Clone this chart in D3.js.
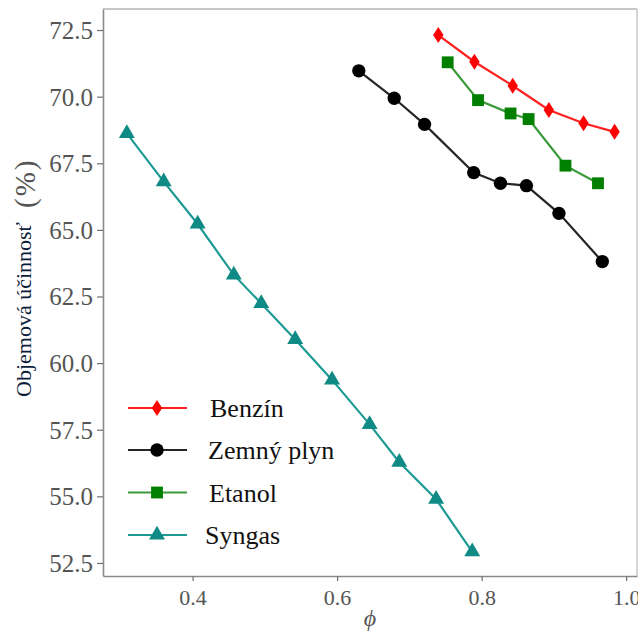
<!DOCTYPE html>
<html>
<head>
<meta charset="utf-8">
<script src="https://cdn.jsdelivr.net/npm/d3@7/dist/d3.min.js"></script>
<style>
  html, body { margin: 0; padding: 0; background: #fff; }
  svg { display: block; }
  .tick text { font-family: "Liberation Serif", "DejaVu Serif", serif; }
</style>
</head>
<body>
<svg id="chart" width="638" height="631"></svg>
<script>
// Volumetric efficiency vs. equivalence ratio for four fuels
const benzinPhi = [0.740, 0.790, 0.843, 0.893, 0.941, 0.984];
const benzinEff = [72.31, 71.31, 70.41, 69.50, 69.00, 68.68];

const plynPhi = [0.630, 0.679, 0.721, 0.789, 0.826, 0.862, 0.907, 0.967];
const plynEff = [70.97, 69.94, 68.96, 67.15, 66.75, 66.66, 65.62, 63.81];

const etanolPhi = [0.753, 0.795, 0.840, 0.865, 0.916, 0.961];
const etanolEff = [71.29, 69.87, 69.37, 69.16, 67.41, 66.75];

const syngasPhi = [0.309, 0.360, 0.407, 0.457, 0.495, 0.542, 0.593, 0.645, 0.686, 0.737, 0.787];
const syngasEff = [68.62, 66.81, 65.22, 63.31, 62.24, 60.89, 59.37, 57.70, 56.28, 54.89, 52.92];

const xTicks = [0.4, 0.6, 0.8, 1.0];
const yTicks = [52.5, 55.0, 57.5, 60.0, 62.5, 65.0, 67.5, 70.0, 72.5];

const seriesNames = ["Benzín", "Zemný plyn", "Etanol", "Syngas"];

const series = [
  { name: seriesNames[0], phi: benzinPhi, eff: benzinEff, line: "#ff2020", fill: "#ff0000", sym: "diamond" },
  { name: seriesNames[1], phi: plynPhi, eff: plynEff, line: "#262626", fill: "#000000", sym: "circle" },
  { name: seriesNames[2], phi: etanolPhi, eff: etanolEff, line: "#3a9a3a", fill: "#007f00", sym: "square" },
  { name: seriesNames[3], phi: syngasPhi, eff: syngasEff, line: "#1e9a94", fill: "#0f8a84", sym: "triangle" }
];

const svg = d3.select("#chart");
const m = { left: 103, top: 9, right: 1, bottom: 55 };
const W = 638 - m.left - m.right;
const H = 631 - m.top - m.bottom;

const x = d3.scaleLinear().domain([0.276, 1.015]).range([0, W]);
const y = d3.scaleLinear().domain([52.01, 73.29]).range([H, 0]);

const g = svg.append("g").attr("transform", `translate(${m.left},${m.top})`);

// Frame: light top/right, darker left/bottom
g.append("line").attr("x1", 0).attr("x2", W).attr("y1", 0).attr("y2", 0)
  .attr("stroke", "#b4b4b4").attr("stroke-width", 1.5);
g.append("line").attr("x1", W).attr("x2", W).attr("y1", 0).attr("y2", H)
  .attr("stroke", "#c8c8c8").attr("stroke-width", 1.5);

const serif = "Liberation Serif, DejaVu Serif, serif";

const xAxis = g.append("g").attr("transform", `translate(0,${H})`)
  .call(d3.axisBottom(x).tickValues(xTicks).tickFormat(d3.format(".1f")).tickSizeInner(5).tickSizeOuter(0).tickPadding(7));
const yAxis = g.append("g")
  .call(d3.axisLeft(y).tickValues(yTicks).tickFormat(d3.format(".1f")).tickSizeInner(6).tickSizeOuter(0).tickPadding(4));

[xAxis, yAxis].forEach(ax => {
  ax.attr("font-family", serif);
  ax.select(".domain").attr("stroke", "#8a8a8a").attr("stroke-width", 1.6);
  ax.selectAll(".tick line").attr("stroke", "#707070").attr("stroke-width", 1.2);
  ax.selectAll(".tick text").attr("fill", "#555").attr("font-family", serif);
});
xAxis.attr("font-size", 22).selectAll(".tick text").attr("dy", "0.78em").attr("font-size", 22);
yAxis.attr("font-size", 25).selectAll(".tick text").attr("dy", "0.34em").attr("font-size", 25);

const symbolFor = {
  circle: d3.symbol().type(d3.symbolCircle).size(140),
  square: d3.symbol().type(d3.symbolSquare).size(140),
  triangle: d3.symbol().type(d3.symbolTriangle).size(110)
};

function drawMarker(sel, s) {
  if (s.sym === "diamond") {
    sel.append("path").attr("d", "M0,-8L5.2,0L0,8L-5.2,0Z").attr("fill", s.fill);
  } else {
    sel.append("path").attr("d", symbolFor[s.sym]()).attr("fill", s.fill);
  }
}

const lineGen = d3.line().x(d => x(d[0])).y(d => y(d[1]));

series.forEach(s => {
  const pts = s.phi.map((p, i) => [p, s.eff[i]]);
  g.append("path").datum(pts).attr("d", lineGen)
    .attr("fill", "none").attr("stroke", s.line).attr("stroke-width", 2.2);
  g.selectAll(null).data(pts).enter().append("g")
    .attr("transform", d => `translate(${x(d[0])},${y(d[1])})`)
    .each(function () { drawMarker(d3.select(this), s); });
});

// Legend
const legY = [408, 450, 492.5, 535];
const legTextX = [210, 208, 209, 205];
const leg = svg.append("g");
series.forEach((s, i) => {
  const row = leg.append("g");
  row.append("line").attr("x1", 128).attr("x2", 187).attr("y1", legY[i]).attr("y2", legY[i])
    .attr("stroke", s.line).attr("stroke-width", 2.2);
  const mk = row.append("g").attr("transform", `translate(157,${legY[i]})`);
  drawMarker(mk, s);
  row.append("text").attr("x", legTextX[i]).attr("y", legY[i] + 9)
    .attr("font-family", "Liberation Serif, Times New Roman, serif")
    .attr("font-size", 26).attr("fill", "#111")
    .text(s.name);
});

// Axis titles
const yl = svg.append("text")
  .attr("transform", "translate(31,397) rotate(-90)")
  .attr("font-family", "Liberation Serif, Times New Roman, serif")
  .attr("font-size", 22);
yl.append("tspan").attr("fill", "#0d1b3a").text("Objemová účinnosť");
yl.append("tspan").attr("fill", "#555").attr("dx", 14).attr("dy", 4)
  .attr("font-size", 29).attr("letter-spacing", 2).text("(%)");

svg.append("text").attr("x", 370).attr("y", 626).attr("text-anchor", "middle")
  .attr("font-family", serif)
  .attr("font-style", "italic").attr("font-size", 24).attr("fill", "#555")
  .text("ϕ");
</script>
</body>
</html>
